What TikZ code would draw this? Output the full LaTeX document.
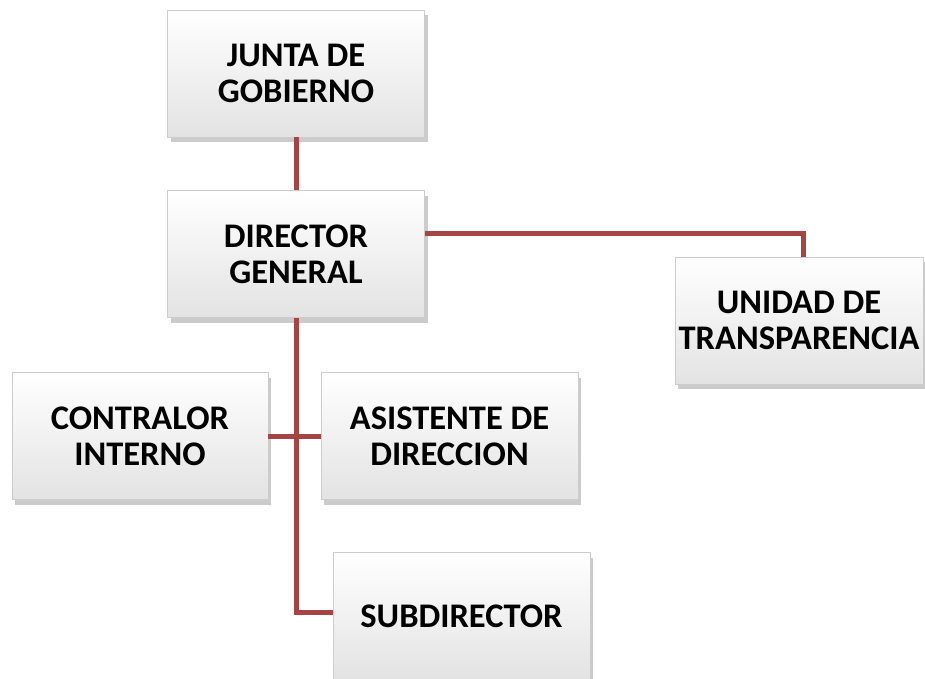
\documentclass[tikz,border=0pt]{standalone}
\usepackage{fontspec}
\setmainfont{Carlito}
\usetikzlibrary{shadows,shadings}
\definecolor{conn}{RGB}{165,68,66}
\tikzset{
  orgbox/.style={draw=gray!40, line width=0.6pt, top color=white, bottom color=gray!22,
    minimum width=257, minimum height=127, inner sep=0pt, align=center,
    font=\bfseries\fontsize{34.5}{36}\selectfont, text=black,
    drop shadow={shadow xshift=3pt, shadow yshift=-5pt, opacity=0.45, fill=gray!90}},
  link/.style={draw=conn, line width=5pt}
}
\begin{document}
\begin{tikzpicture}[x=1pt,y=-1pt]
\useasboundingbox (0,0) rectangle (925,679);
\node[orgbox] (junta) at (296,73.5) {JUNTA DE\\GOBIERNO};
\node[orgbox] (dir) at (296,254) {DIRECTOR\\GENERAL};
\node[orgbox, minimum width=248] (uni) at (799,320.5) {UNIDAD DE\\TRANSPARENCIA};
\node[orgbox, minimum width=256] (con) at (140,436) {CONTRALOR\\INTERNO};
\node[orgbox] (asi) at (449.5,436) {ASISTENTE DE\\DIRECCION};
\node[orgbox] (sub) at (461.5,616) {SUBDIRECTOR};
\coordinate (elbow) at (296,612);
\coordinate (corner) at (803,233);
\draw[link] (junta.south) -- (dir.north);
\draw[link] (dir.east |- corner) -- (corner) -- (uni.north -| corner);
\draw[link] (dir.south) -- (elbow) -- (sub.west |- elbow);
\draw[link] (con.east) -- (asi.west);
\end{tikzpicture}
\end{document}
